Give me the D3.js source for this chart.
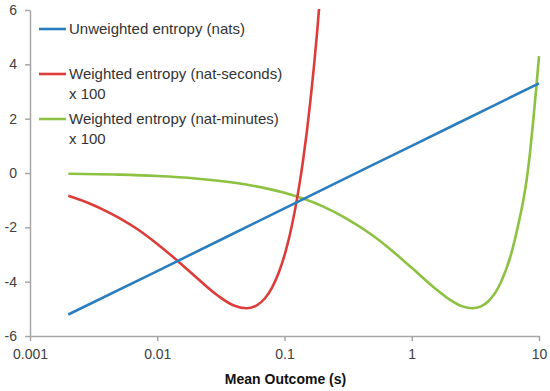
<!DOCTYPE html>
<html>
<head>
<meta charset="utf-8">
<script src="https://cdn.jsdelivr.net/npm/d3@7"></script>
<style>
  html, body { margin: 0; padding: 0; background: #fff; }
  svg { display: block; }
  text { font-family: "Liberation Sans", Arial, sans-serif; }
</style>
</head>
<body>
<svg id="chart" width="550" height="391"></svg>
<script>
// ---- data ----
const xTicks = [0.001, 0.01, 0.1, 1, 10];
const xTickLabels = ["0.001", "0.01", "0.1", "1", "10"];
const yTicks = [-6, -4, -2, 0, 2, 4, 6];
const yTickLabels = ["-6", "-4", "-2", "0", "2", "4", "6"];

const seriesNames = [
  ["Unweighted entropy (nats)"],
  ["Weighted entropy (nat-seconds)", "x 100"],
  ["Weighted entropy (nat-minutes)", "x 100"]
];
const seriesColors = ["#2a7dbf", "#dc3d3a", "#8cc142"];

const unweightedX = [0.002, 0.01, 0.1, 1, 10];
const unweightedY = [-5.21, -3.61, -1.30, 1.00, 3.30];

const secondsX = [0.002, 0.003, 0.004, 0.005, 0.007, 0.01, 0.015, 0.02, 0.03, 0.04, 0.05, 0.06, 0.07, 0.08, 0.09, 0.1, 0.11, 0.12, 0.13, 0.14, 0.15, 0.16, 0.17, 0.18, 0.19];
const secondsY = [-0.84, -1.14, -1.41, -1.65, -2.07, -2.61, -3.30, -3.82, -4.52, -4.88, -4.98, -4.88, -4.62, -4.21, -3.67, -3.03, -2.28, -1.44, -0.52, 0.47, 1.54, 2.68, 3.88, 5.13, 6.45];

const minutesX = [0.002, 0.005, 0.01, 0.02, 0.05, 0.1, 0.2, 0.3, 0.5, 0.7, 1, 1.5, 2, 2.5, 3, 3.5, 4, 5, 6, 7, 7.5, 8, 8.5, 9, 9.5, 10];
const minutesY = [-0.03, -0.06, -0.11, -0.20, -0.42, -0.73, -1.23, -1.65, -2.32, -2.86, -3.49, -4.22, -4.67, -4.91, -4.98, -4.91, -4.72, -4.04, -3.03, -1.73, -1.05, -0.25, 0.75, 1.90, 3.10, 4.30];

const xTitle = "Mean Outcome (s)";

// ---- drawing ----
const svg = d3.select("#chart");
const mLeft = 30, mRight = 539, mTop = 10, mBottom = 336;

const x = d3.scaleLog().domain([0.001, 10]).range([mLeft, mRight]);
const y = d3.scaleLinear().domain([-6, 6]).range([mBottom, mTop]);

const axisColor = "#a6a6a6";
const labelColor = "#404040";

svg.append("defs").append("clipPath").attr("id", "plotclip")
  .append("rect").attr("x", mLeft).attr("y", mTop - 1)
  .attr("width", mRight - mLeft + 2).attr("height", mBottom - mTop + 1);

// y axis
const yAxis = d3.axisLeft(y).tickValues(yTicks)
  .tickFormat((d, i) => yTickLabels[i]).tickSizeInner(5).tickSizeOuter(0).tickPadding(8);
const gy = svg.append("g").attr("transform", `translate(${mLeft},0)`).call(yAxis);
gy.select(".domain").attr("stroke", axisColor).attr("stroke-width", 1.5);
gy.selectAll(".tick line").attr("stroke", axisColor).attr("stroke-width", 1.5);
gy.selectAll(".tick text").attr("fill", labelColor).style("font-size", "14px")
  .style("font-family", "'Liberation Sans', Arial, sans-serif");

// x axis
const xAxis = d3.axisBottom(x).tickValues(xTicks)
  .tickFormat((d, i) => xTickLabels[i]).tickSizeInner(5).tickSizeOuter(0).tickPadding(8);
const gx = svg.append("g").attr("transform", `translate(0,${mBottom})`).call(xAxis);
gx.select(".domain").attr("stroke", axisColor).attr("stroke-width", 1.5);
gx.selectAll(".tick line").attr("stroke", axisColor).attr("stroke-width", 1.5);
gx.selectAll(".tick text").attr("fill", labelColor).style("font-size", "14px")
  .style("font-family", "'Liberation Sans', Arial, sans-serif");

// x title
svg.append("text").attr("x", (mLeft + mRight) / 2 + 1).attr("y", 384)
  .attr("text-anchor", "middle").attr("font-weight", "bold")
  .attr("fill", "#111").style("font-size", "14px").text(xTitle);

// lines
const line = d3.line().x(d => x(d[0])).y(d => y(d[1])).curve(d3.curveMonotoneX);
const series = [
  d3.zip(unweightedX, unweightedY),
  d3.zip(secondsX, secondsY),
  d3.zip(minutesX, minutesY)
];
const plot = svg.append("g").attr("clip-path", "url(#plotclip)");
[2, 1, 0].forEach(i => {
  plot.append("path").datum(series[i])
    .attr("fill", "none").attr("stroke", seriesColors[i])
    .attr("stroke-width", 2.6).attr("stroke-linejoin", "round")
    .attr("d", line);
});

// legend
const legendRows = [29, 74, 119];
seriesNames.forEach((names, i) => {
  const cy = legendRows[i];
  svg.append("line").attr("x1", 39).attr("x2", 66).attr("y1", cy).attr("y2", cy)
    .attr("stroke", seriesColors[i]).attr("stroke-width", 2.6);
  names.forEach((t, j) => {
    svg.append("text").attr("x", 69).attr("y", cy + 20 * j + 5)
      .attr("fill", "#333").style("font-size", "15px").text(t);
  });
});
</script>
</body>
</html>
